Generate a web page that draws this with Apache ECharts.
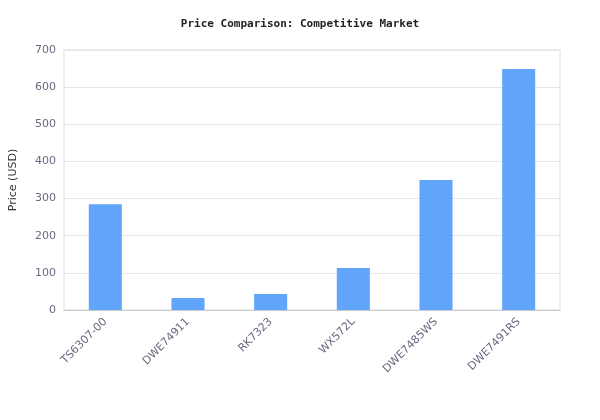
<!DOCTYPE html>
<html>
<head>
<meta charset="utf-8">
<script src="https://cdn.jsdelivr.net/npm/echarts@6/dist/echarts.min.js"></script>
<style>html,body{margin:0;padding:0;background:#fff}#chart{width:600px;height:420px}</style>
</head>
<body>
<div id="chart"></div>
<script>
const models = ['TS6307-00', 'DWE74911', 'RK7323', 'WX572L', 'DWE7485WS', 'DWE7491RS']
const prices = [285, 32, 43, 113, 350, 649]

const chart = echarts.init(document.getElementById('chart'))
chart.setOption({
    title: {
        text: 'Price Comparison: Competitive Market',
        left: 'center',
        top: 14,
        textStyle: {fontFamily: 'DejaVu Sans Mono', fontSize: 11, fontWeight: 'bold', color: '#222'}
    },
    grid: {left: 60, right: 40, top: 50, bottom: 110, show: true, borderColor: '#ddd', borderWidth: 1},
    xAxis: {
        type: 'category',
        data: models,
        axisLine: {lineStyle: {color: '#ccc'}},
        axisTick: {show: false},
        axisLabel: {rotate: 45, color: '#666a80', fontFamily: 'DejaVu Sans', fontSize: 11, margin: 10}
    },
    yAxis: {
        type: 'value',
        min: 0,
        max: 700,
        interval: 100,
        name: 'Price (USD)',
        nameLocation: 'middle',
        nameGap: 45,
        nameTextStyle: {color: '#333', fontFamily: 'DejaVu Sans', fontSize: 11},
        axisLabel: {color: '#666a80', fontFamily: 'DejaVu Sans', fontSize: 11},
        splitLine: {lineStyle: {color: '#e6e6e6'}}
    },
    series: [{
        type: 'bar',
        data: prices,
        barWidth: '40%',
        itemStyle: {color: '#60a5fa'}
    }]
})
</script>
</body>
</html>
